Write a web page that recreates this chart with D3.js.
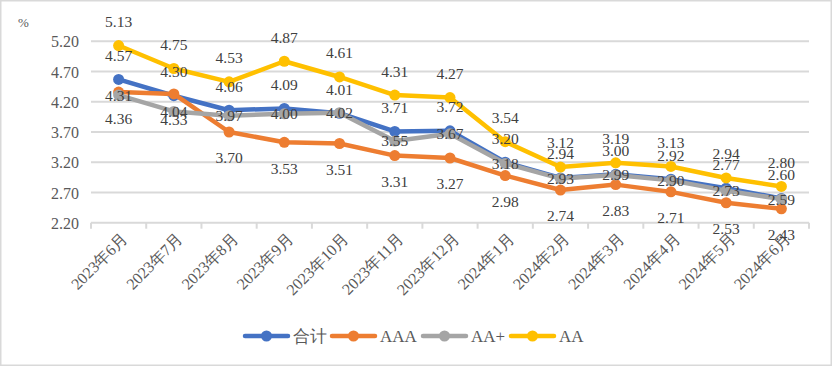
<!DOCTYPE html>
<html><head><meta charset="utf-8">
<script src="https://cdn.jsdelivr.net/npm/d3@7/dist/d3.min.js"></script>
<style>html,body{margin:0;padding:0;background:#fff}svg{display:block}</style>
</head><body>
<svg id="c" width="833" height="367"></svg>
<script>
const categories = ["2023年6月","2023年7月","2023年8月","2023年9月","2023年10月","2023年11月","2023年12月","2024年1月","2024年2月","2024年3月","2024年4月","2024年5月","2024年6月"];
const total = [4.57,4.30,4.06,4.09,4.01,3.71,3.72,3.20,2.94,3.00,2.92,2.77,2.60];
const aaa   = [4.36,4.33,3.70,3.53,3.51,3.31,3.27,2.98,2.74,2.83,2.71,2.53,2.43];
const aaPlus= [4.31,4.04,3.97,4.00,4.02,3.55,3.67,3.18,2.93,2.99,2.90,2.73,2.59];
const aa    = [5.13,4.75,4.53,4.87,4.61,4.31,4.27,3.54,3.12,3.19,3.13,2.94,2.80];
const yTicks = [2.20,2.70,3.20,3.70,4.20,4.70,5.20];
const seriesNames = ["合计","AAA","AA+","AA"];
const colors = ["#4472C4","#ED7D31","#A5A5A5","#FFC000"];

(function(){
const series = [
  {name: seriesNames[0], values: total, color: colors[0], pos: "above"},
  {name: seriesNames[1], values: aaa, color: colors[1], pos: "below"},
  {name: seriesNames[2], values: aaPlus, color: colors[2], pos: "center"},
  {name: seriesNames[3], values: aa, color: colors[3], pos: "above"}
];

const svg = d3.select("#c");
const font = "'Liberation Serif','Times New Roman',serif";
const textColor = "#595959";
const gridColor = "#d9d9d9";

svg.append("rect").attr("x",0.75).attr("y",0.75).attr("width",830.5).attr("height",364.5)
  .attr("fill","#fff").attr("stroke",gridColor).attr("stroke-width",1.5);

const pl = 91, pr = 809, pt = 41.3, pb = 222.7;
const x = d3.scalePoint().domain(categories).range([pl,pr]).padding(0.5);
const y = d3.scaleLinear().domain([2.2,5.2]).range([pb, pt]);

// gridlines
svg.append("g").selectAll("line").data(yTicks.slice(1)).join("line")
  .attr("x1",pl).attr("x2",pr)
  .attr("y1",d=>y(d)).attr("y2",d=>y(d))
  .attr("stroke",gridColor).attr("stroke-width",2);

// y axis labels
const yAxis = d3.axisLeft(y).tickValues(yTicks).tickFormat(d3.format(".2f")).tickSize(0).tickPadding(0);
const gy = svg.append("g").attr("transform",`translate(${79},0)`).call(yAxis);
gy.select(".domain").remove();
gy.selectAll("text").attr("font-family",font).attr("font-size",16).attr("fill",textColor).attr("dy","0.35em");

// x axis
const bandStep = x.step();
const gx = svg.append("g").attr("transform",`translate(0,${pb})`);
gx.append("line").attr("x1",pl).attr("x2",pr).attr("stroke",gridColor).attr("stroke-width",2);
const bounds = d3.range(categories.length+1).map(i => pl + i*bandStep);
gx.selectAll("line.tk").data(bounds).join("line").attr("class","tk")
  .attr("x1",d=>d).attr("x2",d=>d).attr("y1",0).attr("y2",6)
  .attr("stroke",gridColor).attr("stroke-width",2);
gx.selectAll("text").data(categories).join("text")
  .attr("transform",d=>`translate(${x(d)+6},${13}) rotate(-45)`)
  .attr("text-anchor","end").attr("dy","0.35em")
  .attr("font-family",font).attr("font-size",16).attr("fill",textColor)
  .text(d=>d);

// % label
svg.append("text").attr("x",18).attr("y",27).attr("font-family",font).attr("font-size",13)
  .attr("fill",textColor).text("%");

// lines
const line = d3.line().x((d,i)=>x(categories[i])).y(d=>y(d));
series.forEach(s=>{
  const g = svg.append("g");
  g.append("path").datum(s.values).attr("d",line).attr("fill","none")
    .attr("stroke",s.color).attr("stroke-width",4.5).attr("stroke-linejoin","round").attr("stroke-linecap","round");
  g.selectAll("circle").data(s.values).join("circle")
    .attr("cx",(d,i)=>x(categories[i])).attr("cy",d=>y(d)).attr("r",5.5).attr("fill",s.color);
});
// labels
series.forEach(s=>{
  const off = s.pos==="above" ? -24 : s.pos==="below" ? 26 : 0;
  svg.append("g").selectAll("text").data(s.values).join("text")
    .attr("x",(d,i)=>x(categories[i])).attr("y",d=>y(d)+off).attr("dy","0.35em")
    .attr("text-anchor","middle").attr("font-family",font).attr("font-size",15.5)
    .attr("fill","#404040").text(d=>d.toFixed(2));
});

// legend
const legendX = [245, 332, 423, 511];
const leg = svg.append("g").attr("transform","translate(0,336)");
series.forEach((s,i)=>{
  const gx0 = legendX[i];
  leg.append("line").attr("x1",gx0).attr("x2",gx0+43).attr("y1",0).attr("y2",0)
    .attr("stroke",s.color).attr("stroke-width",4.5).attr("stroke-linecap","round");
  leg.append("circle").attr("cx",gx0+21.5).attr("cy",0).attr("r",5.5).attr("fill",s.color);
  leg.append("text").attr("x",gx0+48).attr("y",0).attr("dy","0.35em")
    .attr("font-family",font).attr("font-size",17).attr("fill",textColor).text(s.name);
});
})();
</script>
</body></html>
